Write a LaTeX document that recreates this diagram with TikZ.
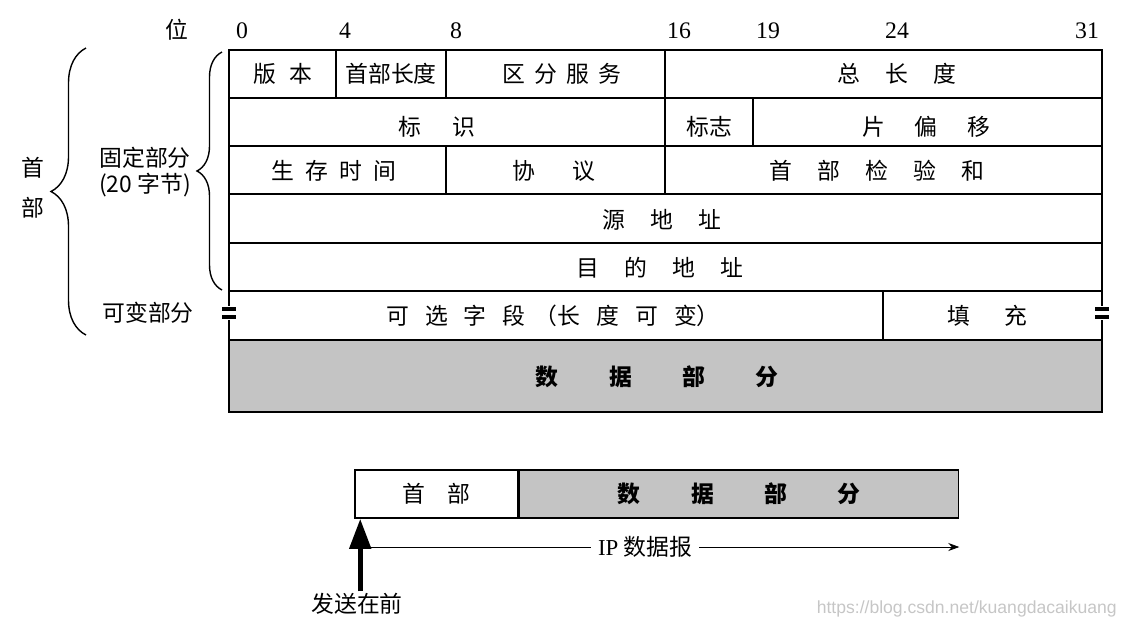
\documentclass[tikz,border=0pt]{standalone}
\usepackage{fontspec}
\setmainfont{Liberation Serif}
\newfontfamily\cjk{Noto Sans CJK SC}
\usetikzlibrary{arrows.meta,positioning,decorations.pathreplacing}
\definecolor{dataGray}{HTML}{C4C4C4}
\newcommand{\gap}[1]{\hspace{#1em}}

\begin{document}
\begin{tikzpicture}[
  x=0.02cm, y=-0.02cm,
  frame/.style={line width=0.9pt,color=black},
  lbl/.style={inner sep=1pt,font=\cjk\fontsize{13}{15}\selectfont},
  bitnum/.style={inner sep=1pt,font=\fontsize{13.5}{15}\selectfont},
  brk/.style={line width=2.3pt},
  brc/.style={decorate,thick,decoration={brace,amplitude=#1}},
  sendarrow/.style={line width=2.8pt,-{Triangle[length=6mm,width=4.2mm]}},
  dgarrow/.style={thin,-{Stealth[length=2.2mm,width=1.6mm]}}
]
\useasboundingbox (0,0) rectangle (1124,630);

% bit positions
\node[lbl] (wei) at (177,30) {位};
\node[bitnum] (b0) at (242,31) {0};
\node[bitnum] (b4) at (345,31) {4};
\node[bitnum] (b8) at (456,31) {8};
\node[bitnum] (b16) at (679,31) {16};
\node[bitnum] (b19) at (768,31) {19};
\node[bitnum] (b24) at (897,31) {24};
\node[bitnum] (b31) at (1087,31) {31};

% fixed part of the header
\draw[frame] (229,50) rectangle (1102,291);
\foreach \y in {98,146,194,243}
  \draw[frame] (229,\y) -- (1102,\y);
\draw[frame] (336,50) -- (336,98);
\draw[frame] (446,50) -- (446,98);
\draw[frame] (665,50) -- (665,194);
\draw[frame] (753,98) -- (753,146);
\draw[frame] (446,146) -- (446,194);

% variable part
\draw[frame] (229,340) -- (1102,340);
\draw[frame] (883,291) -- (883,340);
\foreach \x in {229,1102} {
  \draw[frame] (\x,291) -- (\x,306);
  \draw[frame] (\x,320) -- (\x,340);
  \draw[brk] (\x-7,309) -- (\x+7,309);
  \draw[brk] (\x-7,317) -- (\x+7,317);
}

% data part
\draw[frame,fill=dataGray] (229,340) rectangle (1102,412);

\node[lbl] (ver) at (283,74) {版\gap{0.6}本};
\node[lbl] (hlen) at (391,74) {首部长度};
\node[lbl] (ds) at (562,74) {区\gap{0.4}分\gap{0.4}服\gap{0.4}务};
\node[lbl] (tlen) at (897,74) {总\gap{1.1}长\gap{1.1}度};
\node[lbl] (ident) at (437,127) {标\gap{1.4}识};
\node[lbl] (flags) at (709,127) {标志};
\node[lbl] (foff) at (926,127) {片\gap{1.3}偏\gap{1.3}移};
\node[lbl] (ttl) at (334,171) {生\gap{0.5}存\gap{0.5}时\gap{0.5}间};
\node[lbl] (proto) at (554,171) {协\gap{1.6}议};
\node[lbl] (csum) at (877,171) {首\gap{1.1}部\gap{1.1}检\gap{1.1}验\gap{1.1}和};
\node[lbl] (src) at (662,220) {源\gap{1.1}地\gap{1.1}址};
\node[lbl] (dst) at (660,268) {目\gap{1.1}的\gap{1.1}地\gap{1.1}址};
\node[lbl] (opt) at (553,316) {可\gap{0.7}选\gap{0.7}字\gap{0.7}段\gap{0.4}（长\gap{0.7}度\gap{0.7}可\gap{0.7}变）};
\node[lbl] (pad) at (987,316) {填\gap{1.5}充};
\node[lbl,font=\cjk\bfseries\fontsize{13}{15}\selectfont] (data) at (657,377) {数\gap{2.2}据\gap{2.2}部\gap{2.2}分};

% braces on the left
\draw[brc=0.5cm] (222,290) -- (222,52);
\node[lbl,align=center,font=\cjk\fontsize{13}{25}\selectfont] (fixed) at (145,172) {固定部分\\[-10pt](20 字节)};
\node[lbl] (var) at (148,313) {可变部分};
\draw[brc=0.7cm] (86,335) -- (86,48);
\node[lbl,align=center,font=\cjk\fontsize{13}{23}\selectfont] (hdr) at (33,188) {首\\部};

% the datagram as sent
\node[frame,draw,fill=white,minimum width=3.26cm,minimum height=0.96cm,inner sep=0pt,
  font=\cjk\fontsize{13}{15}\selectfont] (phdr) at (436.5,494) {首\gap{1}部};
\node[frame,draw,fill=dataGray,minimum width=8.78cm,minimum height=0.96cm,inner sep=0pt,
  font=\cjk\bfseries\fontsize{13}{15}\selectfont,right=0pt of phdr] (pdat) {数\gap{2.2}据\gap{2.2}部\gap{2.2}分};
\node[lbl] (send) at (357,604) {发送在前};
\draw[sendarrow] ([xshift=0.12cm]phdr.south west |- send.north) -- ([xshift=0.12cm]phdr.south west);
\node[lbl,fill=white,inner sep=4pt] (ipl) at (645,547) {{\rmfamily IP} 数据报};
\coordinate (ipa) at (368,547);
\draw[thin] (ipl.west) -- (ipa);
\draw[dgarrow] (ipl.east) -- (pdat.south east |- ipl.east);

\node[anchor=east,inner sep=0pt,text=gray!45,font=\fontspec{Liberation Sans}\fontsize{10}{12}\selectfont] (mark) at (1117,609) {https://blog.csdn.net/kuangdacaikuang};
\end{tikzpicture}
\end{document}
